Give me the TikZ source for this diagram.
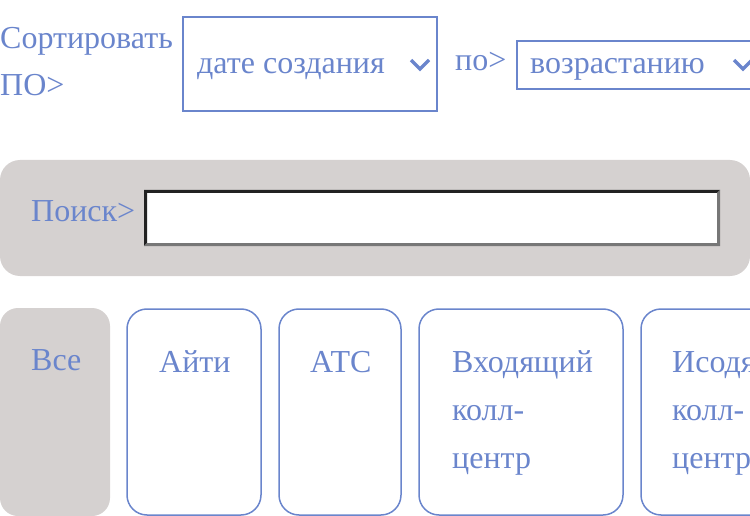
\documentclass[tikz,border=0pt]{standalone}
\usepackage{fontspec}
\setmainfont{Liberation Serif}
\definecolor{bleu}{HTML}{6A85CC}
\definecolor{gris}{HTML}{D5D1D0}
\definecolor{sombre}{HTML}{222222}
\definecolor{clair}{HTML}{777777}

\begin{document}
\begin{tikzpicture}[x=1pt,y=-1pt,
    texte/.style={anchor=base west,inner sep=0pt,text=bleu,font=\fontsize{32}{48}\selectfont},
    cadre/.style={draw=bleu,line width=2pt},
    onglet/.style={draw=bleu,line width=1.5pt,rounded corners=20pt},
    chevron/.style={draw=bleu,line width=3.5pt,line join=miter}]

      \useasboundingbox (0,0) rectangle (750,516);
      \clip (0,0) rectangle (750,516);

      %tri
      \node[texte] (trier) at (0,49) {Сортировать};
      \node[texte] (po) at (0,96) {ПО>};
      \draw[cadre] (183,17) rectangle (437,111);
      \node[texte] (date) at (197,74) {дате создания};
      \draw[chevron] (411,60) -- (420,69) -- (429,60);
      \node[texte] (par) at (455,71) {по>};
      \draw[cadre] (517,41) rectangle (780,89);
      \node[texte] (ordre) at (530,74) {возрастанию};
      \draw[chevron] (734,60) -- (743,69) -- (752,60);

      %recherche
      \fill[gris, rounded corners=20pt] (0,160) rectangle (750,276);
      \node[texte] (chercher) at (31,222) {Поиск>};
      \fill[white] (144,190) rectangle (720,246);
      \fill[sombre] (144,190) -- (720,190) -- (717,193) -- (147,193) -- (147,243) -- (144,246) -- cycle;
      \fill[clair] (720,190) -- (720,246) -- (144,246) -- (147,243) -- (717,243) -- (717,193) -- cycle;

      %onglets
      \fill[gris, rounded corners=18pt] (0,308) rectangle (110,516);
      \node[texte] (tous) at (31,370) {Все};
      \draw[onglet] (127,309) rectangle (261,515);
      \node[texte] (aiti) at (159,372) {Айти};
      \draw[onglet] (279,309) rectangle (401,515);
      \node[texte] (ats) at (310,372) {АТС};
      \draw[onglet] (419,309) rectangle (623,515);
      \node[texte] (entrant) at (452,372) {Входящий};
      \node[texte] (entrant2) at (452,420) {колл-};
      \node[texte] (entrant3) at (452,468) {центр};
      \draw[onglet] (641,309) rectangle (860,515);
      \node[texte] (sortant) at (672,372) {Исодящий};
      \node[texte] (sortant2) at (672,420) {колл-};
      \node[texte] (sortant3) at (672,468) {центр};
    \end{tikzpicture}
\end{document}
